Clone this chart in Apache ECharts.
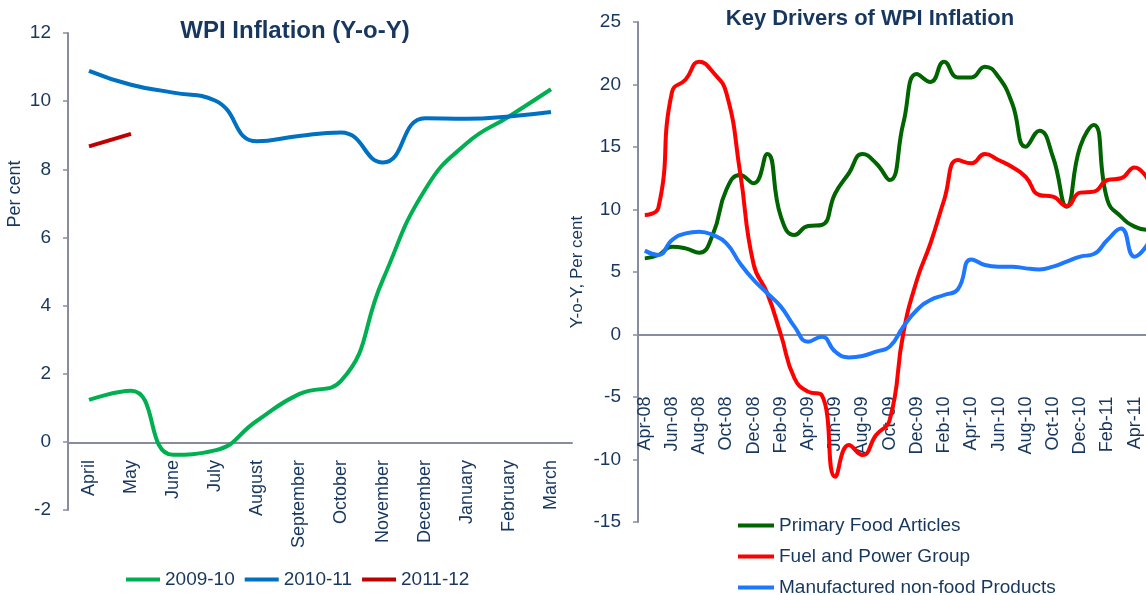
<!DOCTYPE html>
<html lang="en">

<head>
    <meta charset="UTF-8">
    <title>WPI Inflation</title>
    <script src="https://cdn.jsdelivr.net/npm/echarts@6/dist/echarts.min.js"></script>
    <style>
        body {
            margin: 0;
            background-color: #fff;
        }

        #chart {
            width: 1146px;
            height: 595px;
        }
    </style>
</head>

<body>
    <div id="chart"></div>
    <script>
        // left panel: WPI inflation by financial year
        const months = ['April', 'May', 'June', 'July', 'August', 'September', 'October',
            'November', 'December', 'January', 'February', 'March'];
        const wpi0910 = [1.23, 1.5, -0.38, -0.25, 0.62, 1.4, 1.79, 4.77, 7.4, 8.77, 9.55, 10.35];
        const wpi1011 = [10.89, 10.48, 10.25, 10.02, 8.82, 8.98, 9.08, 8.2, 9.5, 9.48, 9.55, 9.68];
        const wpi1112 = [8.67, 9.04];

        // right panel: key drivers
        const driverMonths = ['Apr-08', 'May-08', 'Jun-08', 'Jul-08', 'Aug-08', 'Sep-08', 'Oct-08', 'Nov-08',
            'Dec-08', 'Jan-09', 'Feb-09', 'Mar-09', 'Apr-09', 'May-09', 'Jun-09', 'Jul-09', 'Aug-09', 'Sep-09',
            'Oct-09', 'Nov-09', 'Dec-09', 'Jan-10', 'Feb-10', 'Mar-10', 'Apr-10', 'May-10', 'Jun-10', 'Jul-10',
            'Aug-10', 'Sep-10', 'Oct-10', 'Nov-10', 'Dec-10', 'Jan-11', 'Feb-11', 'Mar-11', 'Apr-11', 'May-11'];
        const primaryFood = [6.09, 6.36, 7.03, 6.89, 6.55, 8.0, 11.6, 12.76, 12.1, 14.44, 9.43, 7.96, 8.68,
            8.76, 11.3, 12.9, 14.44, 13.7, 12.36, 16.9, 20.84, 20.2, 21.83, 20.57, 20.57, 21.43, 20.6, 18.5,
            15.03, 16.31, 14.2, 10.23, 15.03, 16.76, 10.76, 9.43, 8.63, 8.36];
        const fuelPower = [9.56, 10.15, 19.4, 20.4, 21.83, 21.0, 19.3, 13.0, 5.6, 3.3, 0.0, -3.5, -4.57,
            -4.84, -11.37, -8.84, -9.64, -8.04, -6.84, 0.1, 4.36, 7.3, 10.76, 13.96, 13.7, 14.44, 13.96, 13.4,
            12.6, 11.16, 11.03, 10.28, 11.35, 11.43, 12.36, 12.5, 13.37, 12.36];
        const manufNonFood = [6.71, 6.36, 7.56, 8.09, 8.23, 7.96, 7.29, 5.69, 4.36, 3.3, 2.23, 0.63, -0.57,
            -0.17, -1.37, -1.83, -1.72, -1.37, -0.97, 0.63, 1.96, 2.76, 3.16, 3.6, 6.01, 5.56, 5.43, 5.43,
            5.29, 5.21, 5.43, 5.83, 6.23, 6.44, 7.56, 8.49, 6.23, 7.3];

        const navy = '#17375E';
        const axisGray = '#888C9E';
        const font = 'Liberation Sans';

        function line(name, data, color, axisIdx) {
            return {
                name: name,
                type: 'line',
                data: data,
                xAxisIndex: axisIdx,
                yAxisIndex: axisIdx,
                smooth: true,
                showSymbol: false,
                lineStyle: { color: color, width: 4 },
                itemStyle: { color: color }
            };
        }

        function valueAxis(gridIdx, min, max, interval) {
            return {
                type: 'value',
                gridIndex: gridIdx,
                min: min,
                max: max,
                interval: interval,
                splitLine: { show: false },
                axisLine: { show: true, lineStyle: { color: axisGray, width: 2 } },
                axisTick: { show: true, length: 5, lineStyle: { color: axisGray, width: 1.5 } },
                axisLabel: { color: navy, fontSize: 19, fontFamily: font, margin: 17 }
            };
        }

        // x axes sit on the zero line: shift them up from the grid bottom
        function catAxis(gridIdx, data, offset, labelInterval, labelMargin) {
            return {
                type: 'category',
                gridIndex: gridIdx,
                data: data,
                offset: offset,
                axisLine: { onZero: false, lineStyle: { color: axisGray, width: 2 } },
                axisTick: { interval: 0, length: 5, lineStyle: { color: axisGray, width: 1.5 } },
                axisLabel: {
                    interval: labelInterval, rotate: 90, margin: labelMargin,
                    color: navy, fontSize: 18, fontFamily: font
                }
            };
        }

        function legendItem(name, left, top, width) {
            return {
                data: [name],
                left: left, top: top,
                icon: 'rect', itemWidth: width, itemHeight: 4,
                textStyle: { color: navy, fontSize: 19, fontFamily: font }
            };
        }

        const chart = echarts.init(document.getElementById('chart'));
        chart.setOption({
            animation: false,
            graphic: [
                {
                    type: 'text', x: 295, y: 31,
                    style: {
                        text: 'WPI Inflation (Y-o-Y)', fill: navy, font: 'bold 24px "Liberation Sans"',
                        align: 'center', verticalAlign: 'middle', textAlign: 'center', textVerticalAlign: 'middle'
                    }
                },
                {
                    type: 'text', x: 870, y: 19,
                    style: {
                        text: 'Key Drivers of WPI Inflation', fill: navy, font: 'bold 22px "Liberation Sans"',
                        align: 'center', verticalAlign: 'middle', textAlign: 'center', textVerticalAlign: 'middle'
                    }
                },
                {
                    type: 'text', x: 15, y: 194, rotation: Math.PI / 2,
                    style: {
                        text: 'Per cent', fill: navy, font: '18px "Liberation Sans"',
                        align: 'center', verticalAlign: 'middle', textAlign: 'center', textVerticalAlign: 'middle'
                    }
                }
            ],
            grid: [
                { left: 68, right: 574, top: 33, bottom: 85, containLabel: false, outerBoundsMode: 'none' },
                { left: 638, right: -9, top: 22, bottom: 73, containLabel: false, outerBoundsMode: 'none' }
            ],
            legend: [
                {
                    data: ['2009-10', '2010-11', '2011-12'],
                    left: 121, top: 565,
                    icon: 'rect', itemWidth: 34, itemHeight: 4, itemGap: 10,
                    textStyle: { color: navy, fontSize: 19, fontFamily: font }
                },
                legendItem('Primary Food Articles', 733, 511, 36),
                legendItem('Fuel and Power Group', 733, 542, 36),
                legendItem('Manufactured non-food Products', 733, 573, 36)
            ],
            xAxis: [
                catAxis(0, months, -67, 0, 17),
                catAxis(1, driverMonths, -187.5, 1, 62)
            ],
            yAxis: [
                valueAxis(0, -2, 12, 2),
                Object.assign(valueAxis(1, -15, 25, 5), {
                    name: 'Y-o-Y, Per cent',
                    nameLocation: 'middle',
                    nameGap: 52,
                    nameTextStyle: { color: navy, fontSize: 17, fontFamily: font }
                })
            ],
            series: [
                line('2009-10', wpi0910, '#00B050', 0),
                line('2010-11', wpi1011, '#0070C0', 0),
                line('2011-12', wpi1112, '#C00000', 0),
                line('Primary Food Articles', primaryFood, '#006400', 1),
                line('Fuel and Power Group', fuelPower, '#FF0000', 1),
                line('Manufactured non-food Products', manufNonFood, '#1E78FF', 1)
            ]
        });
    </script>
</body>

</html>
